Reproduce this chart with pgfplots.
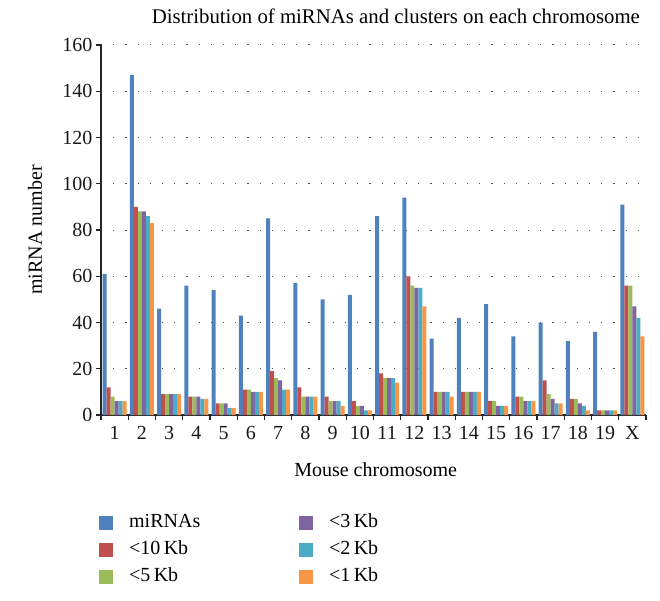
\documentclass[border=0pt]{standalone}
\usepackage{fontspec}
\setmainfont{Liberation Serif}
\usepackage{pgfplots}
\usepackage{pgfplotstable}
\pgfplotsset{compat=1.18}
\definecolor{c1}{HTML}{4F81BD}
\definecolor{c2}{HTML}{C0504D}
\definecolor{c3}{HTML}{9BBB59}
\definecolor{c4}{HTML}{8064A2}
\definecolor{c5}{HTML}{4BACC6}
\definecolor{c6}{HTML}{F79646}
\pgfplotsset{sq/.style={fill=#1, draw=none, legend image code/.code={\fill[#1] (0bp,-7bp) rectangle (14bp,7bp);}}}
\pgfplotstableread{
idx mi k10 k5 k3 k2 k1
0 61 12 8 6 6 6
1 147 90 88 88 86 83
2 46 9 9 9 9 9
3 56 8 8 8 7 7
4 54 5 5 5 3 3
5 43 11 11 10 10 10
6 85 19 16 15 11 11
7 57 12 8 8 8 8
8 50 8 6 6 6 4
9 52 6 4 4 2 2
10 86 18 16 16 16 14
11 94 60 56 55 55 47
12 33 10 10 10 10 8
13 42 10 10 10 10 10
14 48 6 6 4 4 4
15 34 8 8 6 6 6
16 40 15 9 7 5 5
17 32 7 7 5 4 2
18 36 2 2 2 2 2
19 91 56 56 47 42 34
}\data
\newcommand{\fs}{\fontsize{20bp}{24bp}\selectfont}
\begin{document}
\begin{tikzpicture}
\useasboundingbox (-101bp,-186bp) rectangle (559bp,415bp);
\begin{axis}[
  at={(0,0)}, anchor=south west,
  scale only axis, width=545bp, height=370bp,
  ybar=0pt, bar width=4bp,
  xmin=-0.5, xmax=19.5, ymin=0, ymax=160,
  axis x line*=bottom, axis y line*=left,
  axis line style={-, black!85, line width=1.2bp},
  xtick={0,...,19},
  xticklabels={1,2,3,4,5,6,7,8,9,10,11,12,13,14,15,16,17,18,19,X},
  major x tick style={draw=none},
  minor xtick={-0.5,0.5,...,19.5},
  minor tick length=5bp, major tick length=5bp,
  tick align=outside,
  tick style={black!85, line width=1.2bp},
  ytick={0,20,...,160},
  ymajorgrids,
  major grid style={black!70, line width=1bp, dash pattern=on 1.2bp off 11bp},
  ticklabel style={font=\fs, text=black!90},
  /pgf/number format/assume math mode=true,
  xticklabel style={yshift=-3bp},
  xlabel={Mouse chromosome},
  xlabel style={font=\fs, at={(axis description cs:0.504,-0.149)}, anchor=center},
  ylabel={miRNA number},
  ylabel style={font=\fs, at={(axis description cs:-0.121,0.5)}, anchor=center},
  title={Distribution of miRNAs and clusters on each chromosome},
  title style={font=\fontsize{20.8bp}{24bp}\selectfont, at={(axis description cs:0.541,1.062)}, anchor=center},
  legend columns=3, transpose legend,
  legend style={at={(axis description cs:-0.0037,-0.267)}, anchor=north west,
    draw=none, fill=none, font=\fs, inner sep=0pt, column sep=16bp, row sep=9bp,
    nodes={inner sep=0pt, text height=14bp, text depth=4bp},
    /tikz/every even column/.append style={text width=154bp}},
]
\addplot[sq=c1] table[x=idx,y=mi]{\data};
\addplot[sq=c2] table[x=idx,y=k10]{\data};
\addplot[sq=c3] table[x=idx,y=k5]{\data};
\addplot[sq=c4] table[x=idx,y=k3]{\data};
\addplot[sq=c5] table[x=idx,y=k2]{\data};
\addplot[sq=c6] table[x=idx,y=k1]{\data};
\legend{miRNAs,<10\,Kb,<5\,Kb,<3\,Kb,<2\,Kb,<1\,Kb}
\end{axis}
\end{tikzpicture}
\end{document}
